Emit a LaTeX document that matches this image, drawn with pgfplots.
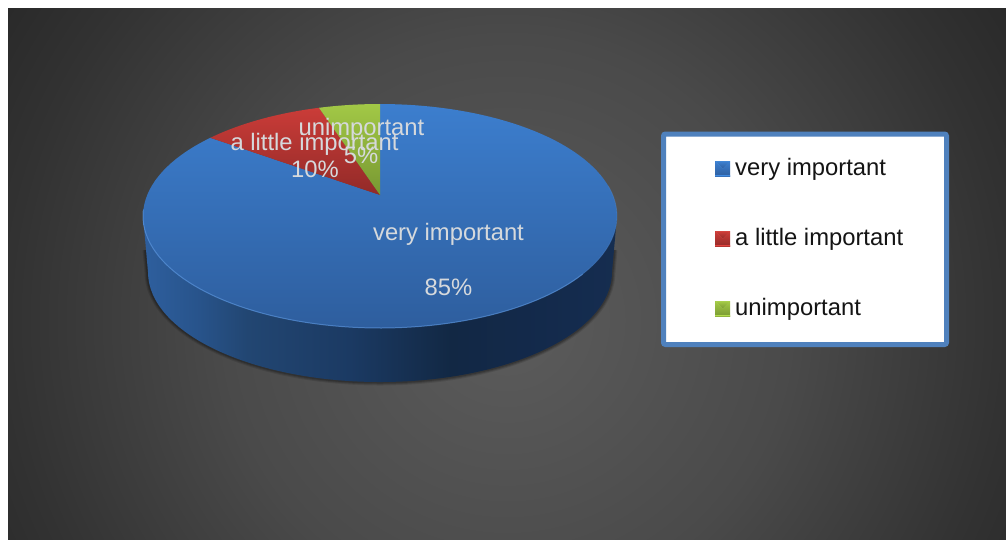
\documentclass[border=0pt]{standalone}
\usepackage{pgfplots}
\usepackage{pgfplotstable}
\usepackage{fontspec}
\setmainfont{Liberation Sans}
\pgfplotsset{compat=1.18}

% Shares of the three answers, clockwise from twelve o'clock
\pgfplotstableread{
answer share
1 85
2 10
3 5
}\sharetable
\pgfplotstablegetelem{0}{share}\of\sharetable\let\shareA\pgfplotsretval
\pgfplotstablegetelem{1}{share}\of\sharetable\let\shareB\pgfplotsretval
\pgfplotstablegetelem{2}{share}\of\sharetable\let\shareC\pgfplotsretval
\pgfmathsetmacro{\endA}{3.6*\shareA}
\pgfmathsetmacro{\endB}{\endA+3.6*\shareB}
\pgfmathsetmacro{\endC}{\endB+3.6*\shareC}

\definecolor{rimblue}{HTML}{5A94DC}
\definecolor{panelblue}{HTML}{4F81BD}
\definecolor{labelgrey}{HTML}{D6D9DC}
\definecolor{bga}{HTML}{5C5C5C}
\definecolor{bgb}{HTML}{4A4A4A}
\definecolor{bgc}{HTML}{323232}
\definecolor{bgd}{HTML}{2A2A2A}
\definecolor{blueT}{HTML}{3C7ECE}
\definecolor{blueB}{HTML}{2E5E9E}
\definecolor{redT}{HTML}{CA3C38}
\definecolor{redB}{HTML}{922A28}
\definecolor{greenT}{HTML}{A2C846}
\definecolor{greenB}{HTML}{789832}
\definecolor{keyBa}{HTML}{52A0E8}
\definecolor{keyBb}{HTML}{2D63A6}
\definecolor{keyBc}{HTML}{264F85}
\definecolor{keyRa}{HTML}{EA5F5A}
\definecolor{keyRb}{HTML}{A82E2C}
\definecolor{keyRc}{HTML}{842523}
\definecolor{keyGa}{HTML}{BCE264}
\definecolor{keyGb}{HTML}{7E9F35}
\definecolor{keyGc}{HTML}{66812B}

\pgfdeclareradialshading{backdrop}{\pgfpoint{0bp}{0bp}}{%
  color(0bp)=(bga);
  color(11.8bp)=(bgb);
  color(20.8bp)=(bgc);
  color(24.5bp)=(bgd);
  color(50bp)=(bgd)}

\definecolor{wa}{HTML}{2E5F9E}
\definecolor{wb}{HTML}{28548C}
\definecolor{wc}{HTML}{224672}
\definecolor{wd}{HTML}{1B3A63}
\definecolor{we}{HTML}{122844}
\definecolor{wf}{HTML}{13294A}
\definecolor{wg}{HTML}{152D50}
\pgfdeclarehorizontalshading{drumwall}{100bp}{%
  color(0bp)=(wa); color(25bp)=(wa); color(30.6bp)=(wb); color(36bp)=(wc);
  color(46.8bp)=(wd); color(57.5bp)=(we); color(65bp)=(wf); color(75bp)=(wg); color(100bp)=(wg)}

% Legend key: a small square with a bevelled face
\newcommand{\keyswatch}[3]{%
  \fill[#2] (0pt,-7.5pt) rectangle (15pt,7.5pt);
  \fill[#1] (0.5pt,7.5pt) -- (14.5pt,7.5pt) -- (7.5pt,0.5pt) -- cycle;
  \fill[#3] (0pt,-7.5pt) rectangle (15pt,-6.3pt);
}
% One pass of the soft shadow round the foot of the drum
\newcommand{\footshadow}[2]{%
  \draw[line width=#1, black, opacity=#2] (axis cs:146,250) -- (axis cs:148,272)
    arc[start angle=180, end angle=360, x radius=232pt, y radius=110pt]
    -- (axis cs:614,250);
}

\begin{document}
\begin{tikzpicture}
\begin{axis}[
  at={(0,0)}, anchor=south west,
  scale only axis, width=1006pt, height=539pt,
  xmin=0, xmax=1006, ymin=0, ymax=539, y dir=reverse,
  hide axis, clip=false,
  declare function={
    onrim(\t)=(\t<-0.5||\t>120.5)?0:1;
    pxx(\r,\h)=380+232.8*\r*sin(\h)/(1+0.1875*\r*cos(\h));
    pyy(\r,\h)=195-108.06*\r*cos(\h)/(1+0.1875*\r*cos(\h));
  },
  legend cell align=left,
  legend style={draw=none, fill=none, at={(axis cs:715,157)}, anchor=north west,
    inner sep=0pt, row sep=46pt, column sep=5pt,
    nodes={inner sep=0pt, text height=18pt, text depth=6pt, text=black!92,
      font=\fontsize{23.8}{28}\selectfont}},
]
% keep the white margin on the page
\path (axis cs:0,0) rectangle (axis cs:1006,539);

% backdrop panel
\begin{pgfinterruptboundingbox}
\begin{scope}
  \clip (axis cs:8,8) rectangle (axis cs:1006,539);
  \path[shading=backdrop] (axis cs:-93,-280) rectangle (axis cs:1107,920);
\end{scope}
\end{pgfinterruptboundingbox}

% soft shadow under the drum, then its side wall
\footshadow{7pt}{0.10}
\footshadow{5pt}{0.14}
\footshadow{3pt}{0.18}
\path[shading=drumwall] (axis cs:143,216) -- (axis cs:148,272)
    arc[start angle=180, end angle=360, x radius=232pt, y radius=110pt]
    -- (axis cs:617,216) -- cycle;

% top face: one wedge per answer
\addplot[draw=none, top color=blueT, bottom color=blueB,
  domain=-1:121, samples=123,
  legend image code/.code={\keyswatch{keyBa}{keyBb}{keyBc}}]
  ({pxx(onrim(x),\endA*x/120)},{pyy(onrim(x),\endA*x/120)});
\addlegendentry{very important}

\addplot[draw=none, top color=redT, bottom color=redB,
  domain=-1:121, samples=123,
  legend image code/.code={\keyswatch{keyRa}{keyRb}{keyRc}}]
  ({pxx(onrim(x),\endA+(\endB-\endA)*x/120)},{pyy(onrim(x),\endA+(\endB-\endA)*x/120)});
\addlegendentry{a little important}

\addplot[draw=none, top color=greenT, bottom color=greenB,
  domain=-1:121, samples=123,
  legend image code/.code={\keyswatch{keyGa}{keyGb}{keyGc}}]
  ({pxx(onrim(x),\endB+(\endC-\endB)*x/120)},{pyy(onrim(x),\endB+(\endC-\endB)*x/120)});
\addlegendentry{unimportant}

% lighter rim along the near edge of the top face
\addplot[forget plot, rimblue, line width=1pt, opacity=0.7, domain=130:262, samples=70]
  ({pxx(1,x)},{pyy(1,x)});
\addplot[forget plot, rimblue, line width=0.8pt, opacity=0.3, domain=85:130, samples=25]
  ({pxx(1,x)},{pyy(1,x)});

% legend frame
\draw[panelblue, line width=5pt, fill=white, rounded corners=2pt]
  (axis cs:663.5,134) rectangle (axis cs:946.5,344.5);

% data labels
\begin{scope}[every node/.style={text=labelgrey, inner sep=0pt, font=\fontsize{23.8}{28}\selectfont}]
  \node at (axis cs:448.5,234) {very important};
  \node at (axis cs:448.5,287) {85\%};
  \node at (axis cs:314.5,144) {a little important};
  \node at (axis cs:315,169) {10\%};
  \node at (axis cs:361.5,129) {unimportant};
  \node at (axis cs:361,155) {5\%};
\end{scope}
\end{axis}
\end{tikzpicture}
\end{document}
